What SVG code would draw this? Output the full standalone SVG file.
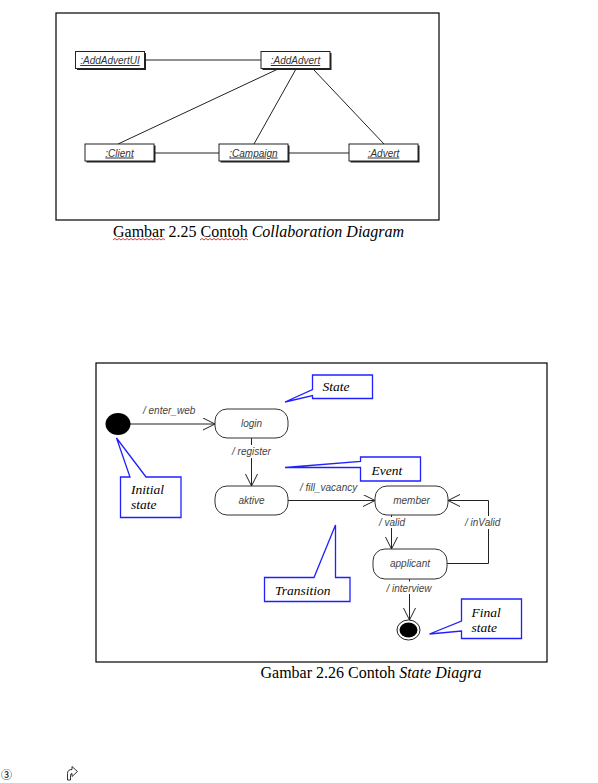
<svg xmlns="http://www.w3.org/2000/svg" width="598" height="783" viewBox="0 0 598 783">
<defs>
<style>
.frame{fill:none;stroke:#000;stroke-width:1.2}
.obj{fill:#fff;stroke:#222;stroke-width:1}
.shadow{fill:#222}
.otext{font-family:"Liberation Sans",Arial,sans-serif;font-size:10px;font-style:italic;text-decoration:underline;fill:#333;text-anchor:middle}
.link{stroke:#222;stroke-width:1;fill:none}
.state{fill:#fff;stroke:#333;stroke-width:1}
.stext{font-family:"Liberation Sans",Arial,sans-serif;font-size:10px;font-style:italic;fill:#444;text-anchor:middle}
.ltext{font-family:"Liberation Sans",Arial,sans-serif;font-size:10px;font-style:italic;fill:#444}
.trans{stroke:#222;stroke-width:1;fill:none}
.callout{fill:#fff;stroke:#2020ff;stroke-width:1.3}
.ctext{font-family:"Liberation Serif","Times New Roman",serif;font-size:13.5px;font-style:italic;fill:#000}
.cap{font-family:"Liberation Serif","Times New Roman",serif;font-size:16px;fill:#000}
.wavy{fill:none;stroke:#e00000;stroke-width:0.8}
</style>
<marker id="arr" markerWidth="14" markerHeight="14" refX="12" refY="6" orient="auto" markerUnits="userSpaceOnUse">
<path d="M0,0 L12,6 L0,12" fill="none" stroke="#222" stroke-width="1"/>
</marker>
</defs>
<rect width="598" height="783" fill="#fff"/>

<!-- Collaboration diagram -->
<rect class="frame" x="56" y="13" width="383" height="207"/>
<g id="collab-connectors">
<line class="link" x1="145" y1="60" x2="261" y2="60"/>
<line class="link" x1="278" y1="69" x2="118" y2="144"/>
<line class="link" x1="296" y1="69" x2="254" y2="144"/>
<line class="link" x1="313" y1="69" x2="384" y2="144"/>
<line class="link" x1="154" y1="153" x2="219" y2="153"/>
<line class="link" x1="289" y1="153" x2="349" y2="153"/>
</g>
<g id="AddAdvertUI">
<rect class="shadow" x="77" y="53" width="69" height="17"/>
<rect class="obj" x="75.5" y="51.5" width="69" height="17"/>
<text class="otext" x="110" y="64">:AddAdvertUI</text>
</g>
<g id="AddAdvert">
<rect class="shadow" x="262.5" y="53" width="69" height="17"/>
<rect class="obj" x="261" y="51.5" width="69" height="17"/>
<text class="otext" x="295.5" y="64">:AddAdvert</text>
</g>
<g id="Client">
<rect class="shadow" x="86.5" y="145.5" width="69" height="17"/>
<rect class="obj" x="85" y="144" width="69" height="17"/>
<text class="otext" x="119.5" y="156.5">:Client</text>
</g>
<g id="Campaign">
<rect class="shadow" x="220.5" y="145.5" width="69" height="17"/>
<rect class="obj" x="219" y="144" width="69" height="17"/>
<text class="otext" x="253.5" y="156.5">:Campaign</text>
</g>
<g id="Advert">
<rect class="shadow" x="350.5" y="145.5" width="69" height="17"/>
<rect class="obj" x="349" y="144" width="69" height="17"/>
<text class="otext" x="383.5" y="156.5">:Advert</text>
</g>
<text class="cap" x="113" y="236.5">Gambar 2.25 Contoh <tspan font-style="italic">Collaboration Diagram</tspan></text>
<path class="wavy" d="M113,240 l2,-1.5 l2,1.5 l2,-1.5 l2,1.5 l2,-1.5 l2,1.5 l2,-1.5 l2,1.5 l2,-1.5 l2,1.5 l2,-1.5 l2,1.5 l2,-1.5 l2,1.5 l2,-1.5 l2,1.5 l2,-1.5 l2,1.5 l2,-1.5 l2,1.5 l2,-1.5 l2,1.5 l2,-1.5 l2,1.5 l2,-1.5 l2,1.5"/>
<path class="wavy" d="M200,240 l2,-1.5 l2,1.5 l2,-1.5 l2,1.5 l2,-1.5 l2,1.5 l2,-1.5 l2,1.5 l2,-1.5 l2,1.5 l2,-1.5 l2,1.5 l2,-1.5 l2,1.5 l2,-1.5 l2,1.5 l2,-1.5 l2,1.5 l2,-1.5 l2,1.5 l2,-1.5 l2,1.5 l2,-1.5 l2,1.5"/>

<!-- State diagram -->
<rect class="frame" x="96" y="363" width="451" height="299"/>
<g id="state-connectors">
<line class="trans" x1="130" y1="424" x2="215" y2="424" marker-end="url(#arr)"/>
<path class="trans" d="M251.5,438 V445 M251.5,458 V486" marker-end="url(#arr)"/>
<line class="trans" x1="288" y1="500.5" x2="375" y2="500.5" marker-end="url(#arr)"/>
<path class="trans" d="M391.5,515 V517 M391.5,528 V549" marker-end="url(#arr)"/>
<path class="trans" d="M447,563.5 H488.5 V529 M488.5,516 V500.5 H448" marker-end="url(#arr)"/>
<path class="trans" d="M409.5,579 V581.5 M409.5,594 V620" marker-end="url(#arr)"/>
<text class="ltext" x="143" y="414">/ enter_web</text>
<text class="ltext" x="232" y="454.5">/ register</text>
<text class="ltext" x="300" y="491">/ fill_vacancy</text>
<text class="ltext" x="379" y="525.5">/ valid</text>
<text class="ltext" x="465" y="525.5">/ inValid</text>
<text class="ltext" x="386.5" y="592">/ interview</text>
</g>
<g id="initial">
<ellipse cx="118" cy="424" rx="12.5" ry="11" fill="#000"/>
</g>
<g id="login">
<rect class="state" x="215" y="409" width="73" height="29" rx="12"/>
<text class="stext" x="251.5" y="427">login</text>
</g>
<g id="aktive">
<rect class="state" x="215" y="486" width="73" height="29" rx="12"/>
<text class="stext" x="251.5" y="503.5">aktive</text>
</g>
<g id="member">
<rect class="state" x="375" y="486" width="73" height="29" rx="12"/>
<text class="stext" x="411.5" y="503.5">member</text>
</g>
<g id="applicant">
<rect class="state" x="373" y="549" width="74" height="30" rx="12"/>
<text class="stext" x="410" y="567">applicant</text>
</g>
<g id="final">
<ellipse cx="408.5" cy="630" rx="11.5" ry="10" fill="#fff" stroke="#222" stroke-width="1"/>
<ellipse cx="408.5" cy="630" rx="9" ry="7.5" fill="#000"/>
</g>
<g id="callout-state">
<path class="callout" d="M312.5,375 H372.5 V398.5 H312.5 V395.5 L285,402 L312.5,389.5 Z"/>
<text class="ctext" x="322.5" y="391">State</text>
</g>
<g id="callout-event">
<path class="callout" d="M360.5,457 H420.5 V481 H360.5 V467.5 L285,467.5 L360.5,461.5 Z"/>
<text class="ctext" x="371.5" y="475">Event</text>
</g>
<g id="callout-initial">
<path class="callout" d="M120.5,477 H130 L116.5,438 L146,477 H181 V517.5 H120.5 Z"/>
<text class="ctext" x="131" y="494">Initial</text>
<text class="ctext" x="131" y="509">state</text>
</g>
<g id="callout-transition">
<path class="callout" d="M264.5,577.5 H314 L335.5,525 V577.5 H350 V601.5 H264.5 Z"/>
<text class="ctext" x="275" y="594.5">Transition</text>
</g>
<g id="callout-final">
<path class="callout" d="M461.5,599 H521.5 V638.5 H461.5 V631 L429.5,634 L461.5,621 Z"/>
<text class="ctext" x="471.5" y="617">Final</text>
<text class="ctext" x="471.5" y="631.5">state</text>
</g>
<text class="cap" x="260.5" y="677.5">Gambar 2.26 Contoh <tspan font-style="italic">State Diagra</tspan></text>

<!-- bottom marks -->
<text x="1" y="779" font-family="'Noto Sans CJK JP', sans-serif" font-size="11px" fill="#000">③</text>
<path d="M67.5,780 V773.5 Q67.5,769.5 72,769.5 V766.5 L77.5,771.5 L72,776.5 V773.5 Q70.5,773.5 70.5,775.5 V780 Z" fill="#fff" stroke="#000" stroke-width="0.8"/>
</svg>
